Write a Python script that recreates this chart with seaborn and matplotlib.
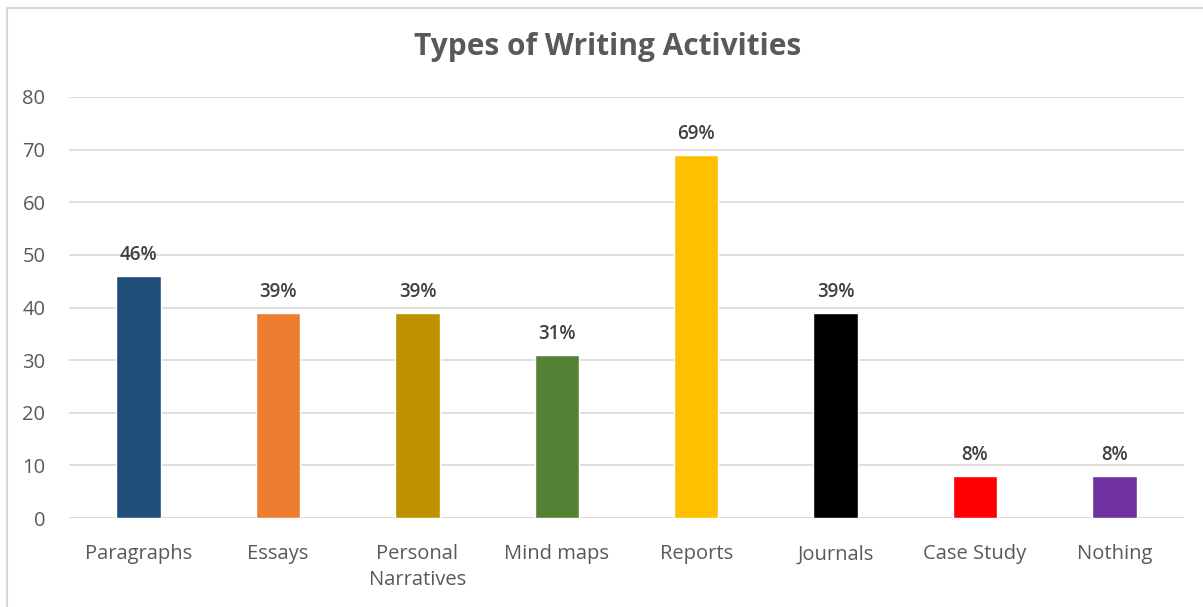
import matplotlib
matplotlib.use("Agg")
import matplotlib.pyplot as plt
import seaborn as sns
import pandas as pd
from matplotlib.patches import Rectangle

# Survey results: share of respondents per writing activity (%)
activities = ["Paragraphs", "Essays", "Personal\nNarratives", "Mind maps",
              "Reports", "Journals", "Case Study", "Nothing"]
percentages = [46, 39, 39, 31, 69, 39, 8, 8]
bar_colors = ["#1F4E79", "#ED7D31", "#BF9000", "#548235",
              "#FFC000", "#000000", "#FF0000", "#7030A0"]
y_ticks = [0, 10, 20, 30, 40, 50, 60, 70, 80]

df = pd.DataFrame({"activity": activities, "percent": percentages})

sns.set_theme(style="white")
plt.rcParams["font.family"] = ["Open Sans", "DejaVu Sans"]

text_gray = "#595959"
grid_gray = "#D9D9D9"

fig = plt.figure(figsize=(12.03, 6.07), dpi=100)
ax = fig.add_axes([69 / 1203, 1 - 518 / 607, (1184 - 69) / 1203, (518 - 97) / 607])

sns.barplot(data=df, x="activity", y="percent", hue="activity",
            palette=bar_colors, width=0.32, legend=False, saturation=1,
            ax=ax)

ax.set_ylim(0, 80)
ax.set_yticks(y_ticks)
ax.yaxis.grid(True, color=grid_gray, linewidth=1.2)
ax.set_axisbelow(True)
for side in ["top", "right", "left", "bottom"]:
    ax.spines[side].set_visible(False)
ax.axhline(0, color=grid_gray, linewidth=1.2, zorder=0.5)

ax.set_xlabel("")
ax.set_ylabel("")
ax.tick_params(axis="both", length=0, labelsize=14.5, colors=text_gray)
ax.tick_params(axis="x", pad=19)
ax.tick_params(axis="y", pad=17)
for lbl in ax.get_xticklabels():
    lbl.set_linespacing(1.35)

for container in ax.containers:
    ax.bar_label(container,
                 labels=[f"{v:.0f}%" for v in container.datavalues],
                 padding=8, fontsize=13.5, color="#404040",
                 fontweight="semibold")

fig.text(0.505, 1 - 47 / 607, "Types of Writing Activities",
         ha="center", va="center", fontsize=21.5, fontweight="bold",
         color=text_gray)

# Light frame around the chart area
fig.patches.append(Rectangle((7 / 1203, -0.01), 1.2, 1 - 8 / 607 + 0.01,
                             transform=fig.transFigure, fill=False,
                             edgecolor="#D9D9D9", linewidth=1.5))

fig.savefig("out.png", dpi=100)
